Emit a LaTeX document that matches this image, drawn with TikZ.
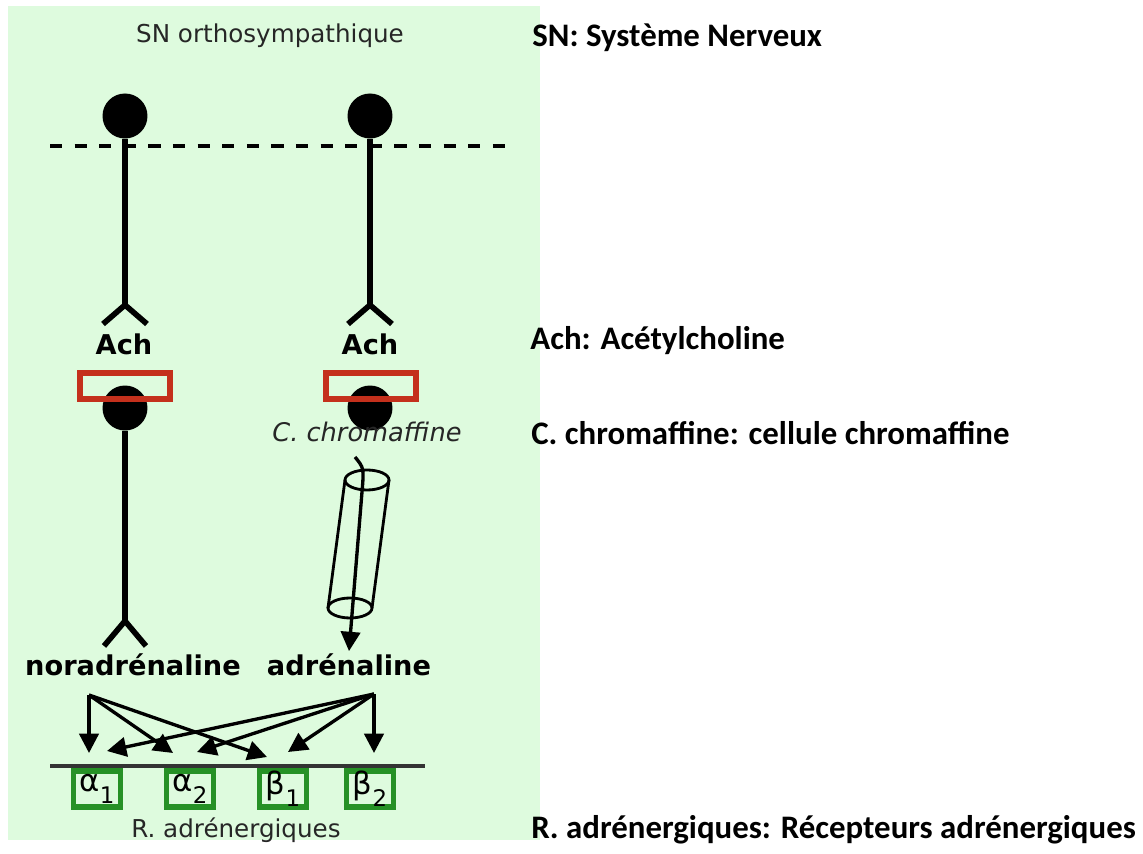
\documentclass[tikz,border=0pt]{standalone}
\usepackage{fontspec}
\setmainfont{DejaVu Sans}
\newfontfamily\calib{Carlito}
\usepackage{tikz}
\usetikzlibrary{arrows.meta}
\definecolor{fondvert}{RGB}{222,251,222}
\definecolor{rougeR}{RGB}{196,48,28}
\definecolor{vertR}{RGB}{38,145,38}

\begin{document}
\begin{tikzpicture}[
    x=0.02cm, y=-0.02cm,
    titre/.style={font=\fontsize{14}{16}\selectfont, text=black!85, inner sep=0, anchor=base},
    soma/.style={circle, fill=black, inner sep=0, minimum size=0.9cm},
    axone/.style={line width=3.2pt},
    nt/.style={font=\bfseries\fontsize{15.5}{18}\selectfont, inner sep=1pt, anchor=base},
    recep/.style={draw=rougeR, line width=3.2pt, minimum width=1.8cm, minimum height=0.52cm, inner sep=0},
    adreno/.style={draw=vertR, line width=3.2pt, minimum width=0.94cm, minimum height=0.72cm, inner sep=0, font=\fontsize{17.5}{17}\selectfont},
    fleche/.style={-{Triangle[length=11pt,width=11pt]}, line width=1.9pt},
    legende/.style={anchor=base west, inner sep=0, font=\calib\bfseries\fontsize{18.7}{20}\selectfont}
]
\useasboundingbox (0,0) rectangle (1143,854);
\fill[white] (0,0) rectangle (1143,854);
\fill[fondvert] (8,6) rectangle (540,840);

% titre et legendes
\node[titre] (titre) at (270,43) {SN orthosympathique};
\node[legende] (legSN) at (532,47) {SN: Système Nerveux};
\node[legende] (legAch) at (530,350) {Ach: Acétylcholine};
\node[legende] (legC) at (531,445) {C. chromaffine: cellule chromaffine};
\node[legende] (legR) at (531,838) {R. adrénergiques: Récepteurs adrénergiques};

% neurones preganglionnaires
\coordinate (barg) at (50,146);
\coordinate (bard) at (511,146);
\draw[line width=2.3pt, dash pattern=on 7pt off 7pt] (barg) -- (bard);
\node[soma] (soma1) at (125,116) {};
\node[soma] (soma2) at (370,116) {};
\coordinate (fork1) at (125,305);
\coordinate (fork2) at (370,305);
\draw[axone] (soma1) -- (fork1) -- (103,324) (fork1) -- (147,324);
\draw[axone] (soma2) -- (fork2) -- (348,324) (fork2) -- (392,324);
\node[nt] (ach1) at (124,355) {Ach};
\node[nt] (ach2) at (370,355) {Ach};

% synapses
\node[soma] (cell1) at (125,408) {};
\node[soma] (cell2) at (370,408) {};
\node[recep] (rec1) at (125,386) {};
\node[recep] (rec2) at (371,386) {};
\coordinate (fork3) at (125,621);
\draw[axone] (cell1) -- (fork3) -- (104,646) (fork3) -- (146,646);

% cellule chromaffine
\node[titre, font=\itshape\fontsize{14.6}{16}\selectfont] (chrom) at (367,442) {C. chromaffine};
\draw[line width=1.6pt] (367,480) ellipse [x radius=0.44cm, y radius=0.2cm];
\draw[line width=1.6pt] (350,608) ellipse [x radius=0.44cm, y radius=0.2cm];
\draw[line width=1.6pt] (345,480) -- (328,608) (389,480) -- (372,608);

% hormones
\node[nt] (nor) at (133,675) {noradrénaline};
\node[nt] (adr) at (349,675) {adrénaline};
\coordinate (cylsrc) at (355,457);
\draw[fleche] (cylsrc) .. controls (364,468) .. (362,492) -- (adr.north);

% recepteurs
\draw[line width=2pt, black!80] (50,766) -- (425,766);
\node[adreno] (a1) at (97,789) {α\raisebox{-0.4em}{\fontsize{13}{13}\selectfont 1}};
\node[adreno] (a2) at (190,789) {α\raisebox{-0.4em}{\fontsize{13}{13}\selectfont 2}};
\node[adreno] (b1) at (283,789) {β\raisebox{-0.4em}{\fontsize{13}{13}\selectfont 1}};
\node[adreno] (b2) at (370,789) {β\raisebox{-0.4em}{\fontsize{13}{13}\selectfont 2}};
\node[titre] (rtxt) at (236,837) {R. adrénergiques};

\coordinate (srcN) at (89,695);
\coordinate (srcA) at (374,694);
\coordinate (nA1) at (89,753);
\coordinate (nA2) at (173,753);
\coordinate (nB1) at (267,757);
\coordinate (aA1) at (107,751);
\coordinate (aA2) at (197,752);
\coordinate (aB1) at (288,752);
\coordinate (aB2) at (374,753);
\draw[fleche] (srcN) -- (nA1);
\draw[fleche] (srcN) -- (nA2);
\draw[fleche] (srcN) -- (nB1);
\draw[fleche] (srcA) -- (aA1);
\draw[fleche] (srcA) -- (aA2);
\draw[fleche] (srcA) -- (aB1);
\draw[fleche] (srcA) -- (aB2);

\end{tikzpicture}
\end{document}
